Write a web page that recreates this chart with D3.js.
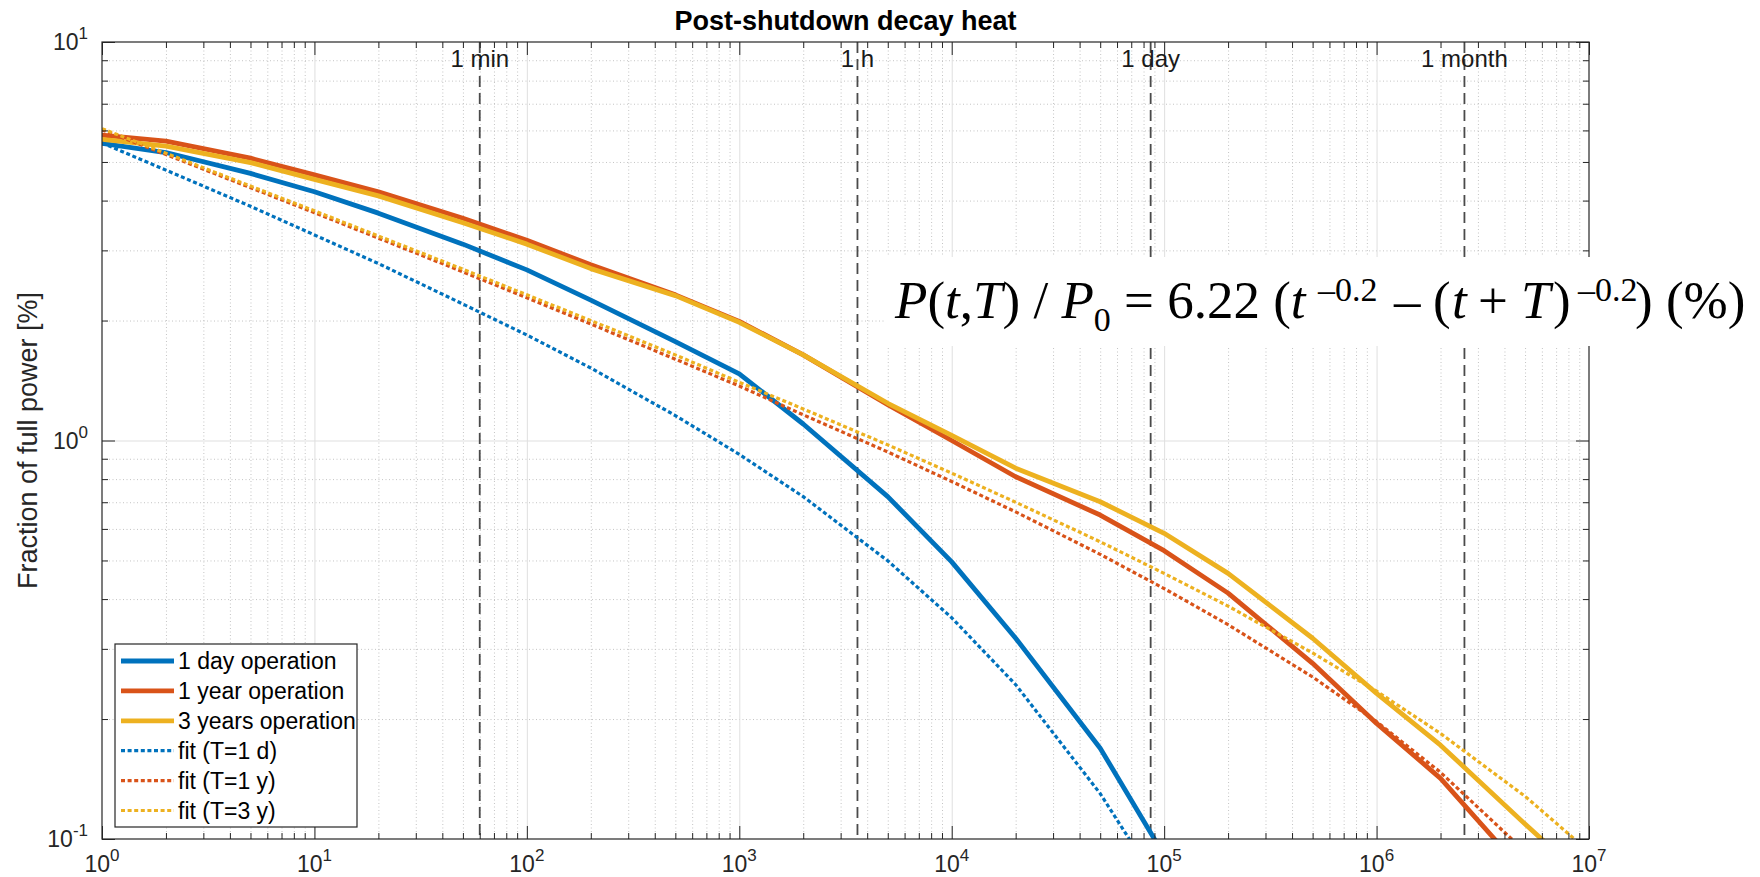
<!DOCTYPE html>
<html>
<head>
<meta charset="utf-8">
<script src="https://cdn.jsdelivr.net/npm/d3@7/dist/d3.min.js"></script>
<style>
body { margin: 0; background: #fff; }
svg { display: block; font-family: "Liberation Sans", Arial, Helvetica, sans-serif; }
</style>
</head>
<body>
<svg id="chart" width="1760" height="877"></svg>
<script>
// time after shutdown [s], 1-2-5 steps
const times = [1, 2, 5, 10, 20, 50, 100, 200, 500, 1e3, 2e3, 5e3, 1e4, 2e4, 5e4, 1e5, 2e5, 5e5, 1e6, 2e6, 5e6, 1e7];

// fraction of full power [%]
const dayOp   = [5.57, 5.28, 4.68, 4.21, 3.72, 3.11, 2.68, 2.25, 1.77, 1.47, 1.10, 0.723, 0.496, 0.319, 0.169, 0.091];
const yearOp  = [5.84, 5.64, 5.11, 4.64, 4.21, 3.61, 3.18, 2.76, 2.32, 1.99, 1.64, 1.23, 1.0, 0.811, 0.650, 0.529, 0.414, 0.276, 0.195, 0.142, 0.082];
const year3Op = [5.70, 5.48, 4.98, 4.52, 4.11, 3.52, 3.11, 2.70, 2.31, 1.98, 1.64, 1.24, 1.03, 0.852, 0.702, 0.585, 0.464, 0.319, 0.232, 0.172, 0.109, 0.078];
const fitDay   = [5.58, 4.77, 3.87, 3.28, 2.78, 2.20, 1.84, 1.52, 1.155, 0.923, 0.723, 0.499, 0.359, 0.244, 0.130, 0.073];
const fitYear  = [6.02, 5.22, 4.31, 3.73, 3.22, 2.65, 2.28, 1.96, 1.60, 1.37, 1.16, 0.936, 0.789, 0.662, 0.518, 0.425, 0.345, 0.255, 0.197, 0.147, 0.093];
const fit3Year = [6.06, 5.26, 4.35, 3.77, 3.26, 2.69, 2.32, 2.00, 1.64, 1.40, 1.20, 0.975, 0.828, 0.700, 0.557, 0.464, 0.384, 0.293, 0.235, 0.184, 0.128, 0.093];

const seriesNames = ["1 day operation", "1 year operation", "3 years operation", "fit (T=1 d)", "fit (T=1 y)", "fit (T=3 y)"];

// reference times
const markerNames = ["1 min", "1 h", "1 day", "1 month"];
const markerTimes = [60, 3600, 86400, 2592000];

const xExponents = [0, 1, 2, 3, 4, 5, 6, 7];
const yExponents = [-1, 0, 1];

var blue = "#0072BD", red = "#D95319", yellow = "#EDB120";
var axisColor = "#262626";

var margin = { top: 42, right: 171, bottom: 38, left: 102 };
var svgWidth = 1760, svgHeight = 877;
var width = svgWidth - margin.left - margin.right;
var height = svgHeight - margin.top - margin.bottom;

var svg = d3.select("#chart");
var g = svg.append("g").attr("transform", "translate(" + margin.left + "," + margin.top + ")");

var x = d3.scaleLog().domain([1, 1e7]).range([0, width]);
var y = d3.scaleLog().domain([0.1, 10]).range([height, 0]);

var xMajor = xExponents.map(e => Math.pow(10, e));
var yMajor = yExponents.map(e => Math.pow(10, e));
var xMinor = [], yMinor = [];
xExponents.slice(0, -1).forEach(e => { for (let k = 2; k < 10; k++) xMinor.push(k * Math.pow(10, e)); });
yExponents.slice(0, -1).forEach(e => { for (let k = 2; k < 10; k++) yMinor.push(k * Math.pow(10, e)); });

// grid
function grid(axis, cls, color, dash) {
    var gg = g.append("g").attr("class", cls);
    gg.call(axis);
    gg.select(".domain").remove();
    gg.selectAll("text").remove();
    gg.selectAll("line").attr("stroke", color).attr("stroke-width", 1)
        .attr("stroke-dasharray", dash);
    return gg;
}
grid(d3.axisBottom(x).tickValues(xMinor).tickSize(-height), "xminor", "#c4c4c4", "1,2.5")
    .attr("transform", "translate(0," + height + ")");
grid(d3.axisLeft(y).tickValues(yMinor).tickSize(-width), "yminor", "#c4c4c4", "1,2.5");
grid(d3.axisBottom(x).tickValues(xMajor.slice(1, -1)).tickSize(-height), "xmajor", "#dfdfdf", null)
    .attr("transform", "translate(0," + height + ")");
grid(d3.axisLeft(y).tickValues(yMajor.slice(1, -1)).tickSize(-width), "ymajor", "#dfdfdf", null);

// reference time lines
var marks = g.append("g");
marks.selectAll("line").data(markerTimes).enter().append("line")
    .attr("x1", d => x(d)).attr("x2", d => x(d))
    .attr("y1", 0).attr("y2", height)
    .attr("stroke", "#4a4a4a").attr("stroke-width", 1.8)
    .attr("stroke-dasharray", "11,6");
marks.selectAll("text").data(markerTimes).enter().append("text")
    .attr("x", d => x(d)).attr("y", 25)
    .attr("text-anchor", "middle")
    .attr("font-size", 24).attr("fill", "#1a1a1a")
    .text((d, i) => markerNames[i]);

// curves
g.append("clipPath").attr("id", "clip").append("rect")
    .attr("width", width).attr("height", height);
var curves = g.append("g").attr("clip-path", "url(#clip)");

var line = d3.line()
    .x(d => x(d.t))
    .y(d => y(d.v));

var series = [
    { values: dayOp, color: blue, dotted: false },
    { values: yearOp, color: red, dotted: false },
    { values: year3Op, color: yellow, dotted: false },
    { values: fitDay, color: blue, dotted: true },
    { values: fitYear, color: red, dotted: true },
    { values: fit3Year, color: yellow, dotted: true }
];

series.forEach(s => {
    var pts = s.values.map((v, i) => ({ t: times[i], v: v }));
    curves.append("path")
        .datum(pts)
        .attr("fill", "none")
        .attr("stroke", s.color)
        .attr("stroke-width", s.dotted ? 3.2 : 4.8)
        .attr("stroke-dasharray", s.dotted ? "4,2.6" : null)
        .attr("stroke-linejoin", "round")
        .attr("stroke-linecap", s.dotted ? "butt" : "round")
        .attr("d", line);
});

// axes box with inward ticks
function ticks(axis, tr, size) {
    var gg = g.append("g").attr("transform", tr);
    gg.call(axis.tickSize(size).tickFormat(""));
    gg.select(".domain").remove();
    gg.selectAll("line").attr("stroke", axisColor).attr("stroke-width", 1);
    gg.selectAll("text").remove();
    return gg;
}
ticks(d3.axisBottom(x).tickValues(xMajor), "translate(0," + height + ")", -13);
ticks(d3.axisBottom(x).tickValues(xMinor), "translate(0," + height + ")", -6);
ticks(d3.axisTop(x).tickValues(xMajor), "translate(0,0)", -13);
ticks(d3.axisTop(x).tickValues(xMinor), "translate(0,0)", -6);
ticks(d3.axisLeft(y).tickValues(yMajor), "translate(0,0)", -13);
ticks(d3.axisLeft(y).tickValues(yMinor), "translate(0,0)", -6);
ticks(d3.axisRight(y).tickValues(yMajor), "translate(" + width + ",0)", -13);
ticks(d3.axisRight(y).tickValues(yMinor), "translate(" + width + ",0)", -6);

g.append("rect")
    .attr("width", width).attr("height", height)
    .attr("fill", "none").attr("stroke", axisColor).attr("stroke-width", 1.2);

// tick labels 10^n
var xl = g.append("g").selectAll("text").data(xExponents).enter().append("text")
    .attr("x", d => x(Math.pow(10, d)))
    .attr("y", height + 33)
    .attr("text-anchor", "middle")
    .attr("font-size", 23).attr("fill", axisColor);
xl.append("tspan").text("10");
xl.append("tspan").attr("dy", -11).attr("font-size", 17).text(d => d);

var yl = g.append("g").selectAll("text").data(yExponents).enter().append("text")
    .attr("x", -14)
    .attr("y", d => y(Math.pow(10, d)) + 8)
    .attr("text-anchor", "end")
    .attr("font-size", 23).attr("fill", axisColor);
yl.append("tspan").text("10");
yl.append("tspan").attr("dy", -11).attr("font-size", 17).text(d => d);

// title and axis label
svg.append("text")
    .attr("x", margin.left + width / 2).attr("y", 30)
    .attr("text-anchor", "middle")
    .attr("font-size", 27).attr("font-weight", "bold").attr("fill", "#000")
    .text("Post-shutdown decay heat");

svg.append("text")
    .attr("transform", "translate(37," + (margin.top + height / 2) + ") rotate(-90)")
    .attr("text-anchor", "middle")
    .attr("font-size", 27).attr("fill", axisColor)
    .text("Fraction of full power [%]");

// formula box
svg.append("rect")
    .attr("x", 885).attr("y", 257).attr("width", 880).attr("height", 89)
    .attr("fill", "#fff");

var pieces = [
    { s: "P", it: 1, at: 895 }, { s: "(" }, { s: "t", it: 1 }, { s: "," }, { s: "T", it: 1 }, { s: ") / " },
    { s: "P", it: 1 }, { s: "0", shift: 13 }, { s: " = 6.22 (" }, { s: "t", it: 1 },
    { s: "\u20130.2", shift: -17, at: 1318 }, { s: "\u2013", at: 1394 }, { s: "(", at: 1433 },
    { s: "t", it: 1, at: 1452 }, { s: "+", at: 1478 }, { s: "T", it: 1, at: 1521 },
    { s: ")", at: 1553 }, { s: "\u20130.2", shift: -17, at: 1578 }, { s: ") (%)", at: 1635 }
];
var formula = svg.append("text")
    .attr("y", 318)
    .attr("font-family", "'Liberation Serif', 'Times New Roman', serif")
    .attr("font-size", 53).attr("fill", "#000");
var cur = 0;
pieces.forEach(p => {
    var sh = p.shift || 0;
    var ts = formula.append("tspan")
        .attr("dy", sh - cur)
        .attr("font-style", p.it ? "italic" : "normal")
        .attr("font-size", sh ? 34 : 53)
        .text(p.s);
    if (p.at) ts.attr("x", p.at);
    cur = sh;
});

// legend
var legend = svg.append("g").attr("transform", "translate(115,644)");
legend.append("rect")
    .attr("width", 242).attr("height", 183)
    .attr("fill", "#fff").attr("stroke", axisColor).attr("stroke-width", 1.2);
var rows = legend.selectAll("g.row").data(series).enter().append("g")
    .attr("class", "row")
    .attr("transform", (d, i) => "translate(0," + (17 + i * 29.9) + ")");
rows.append("line")
    .attr("x1", 6).attr("x2", 59)
    .attr("stroke", d => d.color)
    .attr("stroke-width", d => d.dotted ? 3.2 : 4.8)
    .attr("stroke-dasharray", d => d.dotted ? "4,2.6" : null);
rows.append("text")
    .attr("x", 63).attr("y", 8)
    .attr("font-size", 23).attr("fill", "#000")
    .text((d, i) => seriesNames[i]);
</script>
</body>
</html>
